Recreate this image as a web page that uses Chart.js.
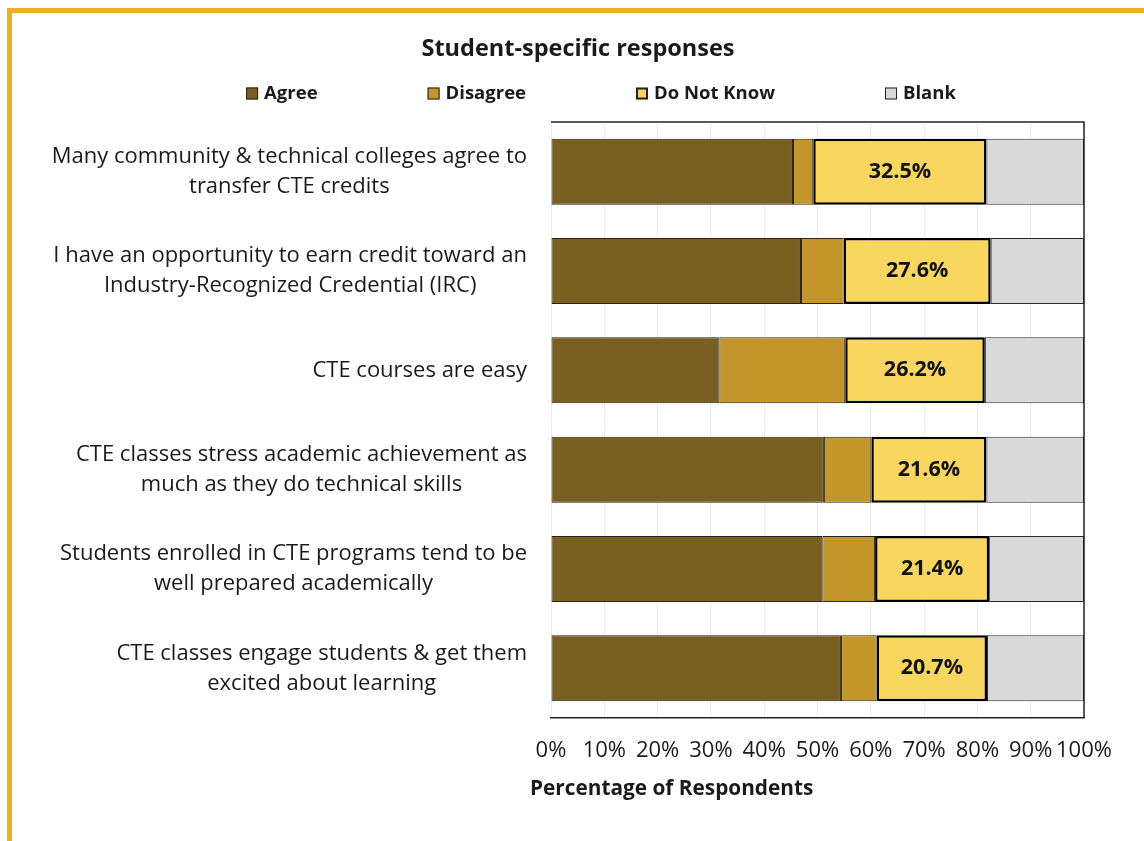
<!DOCTYPE html>
<html><head><meta charset="utf-8">
<script src="https://cdn.jsdelivr.net/npm/chart.js@4.4.1/dist/chart.umd.min.js"></script>
<style>
html,body{margin:0;padding:0;background:#fff;}
body{width:1144px;height:841px;overflow:hidden;position:relative;}
#frame{position:absolute;left:7px;top:8px;right:0;bottom:0;border-top:5px solid #EEAF27;border-left:5px solid #EEAF27;}
#wrap{position:absolute;left:12px;top:13px;width:1132px;height:828px;}
</style></head><body>
<div id="frame"></div>
<div id="wrap"><canvas id="c"></canvas></div>
<script>
const categories = [
  ["Many community & technical colleges agree to", "transfer CTE credits"],
  ["I have an opportunity to earn credit toward an", "Industry-Recognized Credential (IRC)"],
  ["CTE courses are easy"],
  ["CTE classes stress academic achievement as", "much as they do technical skills"],
  ["Students enrolled in CTE programs tend to be", "well prepared academically"],
  ["CTE classes engage students & get them", "excited about learning"]
];
const seriesNames = ["Agree", "Disagree", "Do Not Know", "Blank"];
const agree     = [45.4, 46.9, 31.6, 51.2, 50.9, 54.4];
const disagree  = [3.8, 8.0, 23.6, 8.9, 9.9, 6.7];
const doNotKnow = [32.5, 27.6, 26.2, 21.6, 21.4, 20.7];
const blank     = [18.3, 17.5, 18.6, 18.3, 17.8, 18.2];
const xTickValues = [0, 10, 20, 30, 40, 50, 60, 70, 80, 90, 100];
const chartTitle = "Student-specific responses";
const xAxisTitle = "Percentage of Respondents";

const FONT = "'Open Sans'";
const TEXT = "#1a1a1a";

const customPlugin = {
  id: 'custom',
  afterLayout(chart) {
    const tb = chart.titleBlock;
    if (tb) {
      const shift = chart.width / 2 - (tb.left + tb.right) / 2;
      tb.left += shift; tb.right += shift;
    }
  },
  beforeDraw(chart) {
    const ys = chart.scales.y;
    const items = ys.getLabelItems(chart.chartArea);
    const ctx = chart.ctx;
    const pad = ys.options.ticks.padding;
    items.forEach(it => {
      ctx.save();
      ctx.font = it.font.string;
      const lines = Array.isArray(it.label) ? it.label : [it.label];
      let w = 0;
      lines.forEach(l => { w = Math.max(w, ctx.measureText(l).width); });
      ctx.restore();
      it.options.textAlign = 'center';
      it.options.translation[0] = ys.right - pad - w / 2;
    });
  },
  afterDatasetsDraw(chart) {
    const ctx = chart.ctx;
    const dsIndex = 2;
    const meta = chart.getDatasetMeta(dsIndex);
    ctx.save();
    ctx.font = "bold 21.5px " + FONT;
    ctx.fillStyle = "#111";
    ctx.textAlign = 'center';
    ctx.textBaseline = 'middle';
    meta.data.forEach((bar, i) => {
      const v = chart.data.datasets[dsIndex].data[i];
      const c = bar.getCenterPoint();
      ctx.fillText(v.toFixed(1) + "%", c.x, c.y);
    });
    ctx.restore();
  },
  afterDraw(chart) {
    const ctx = chart.ctx;
    const a = chart.chartArea;
    ctx.save();
    ctx.strokeStyle = "#222";
    ctx.lineWidth = 1.5;
    ctx.beginPath();
    ctx.moveTo(a.left, a.top);
    ctx.lineTo(a.right, a.top);
    ctx.lineTo(a.right, a.bottom);
    ctx.stroke();
    ctx.restore();

    // legend
    ctx.save();
    ctx.font = "bold 18.5px " + FONT;
    ctx.textBaseline = 'middle';
    const box = 12, gapBT = 6, gap = 110;
    const ds = chart.data.datasets;
    const widths = ds.map(d => box + gapBT + ctx.measureText(d.label).width);
    const total = widths.reduce((s, w) => s + w, 0) + gap * (ds.length - 1);
    let x = 589 - total / 2;
    const y = 80.5;
    ds.forEach((d, i) => {
      ctx.fillStyle = d.backgroundColor;
      ctx.fillRect(x, y - box / 2, box, box);
      ctx.strokeStyle = "#222";
      ctx.lineWidth = d.legendBorder;
      ctx.strokeRect(x + d.legendBorder / 2, y - box / 2 + d.legendBorder / 2, box - d.legendBorder, box - d.legendBorder);
      ctx.fillStyle = TEXT;
      ctx.textAlign = 'left';
      ctx.fillText(d.label, x + box + gapBT, y);
      x += widths[i] + gap;
    });
    ctx.restore();

    // x axis title
    ctx.save();
    ctx.font = "bold 20.8px " + FONT;
    ctx.fillStyle = TEXT;
    ctx.textAlign = 'left';
    ctx.textBaseline = 'middle';
    ctx.fillText(xAxisTitle, a.left - 21, 776);
    ctx.restore();
  }
};

const common = { borderSkipped: false, categoryPercentage: 1.0, barPercentage: 0.665 };

new Chart(document.getElementById('c'), {
  type: 'bar',
  data: {
    labels: categories,
    datasets: [
      Object.assign({ label: seriesNames[0], data: agree, backgroundColor: "#7A5F23", borderColor: "#2a2416", borderWidth: 1, legendBorder: 1 }, common),
      Object.assign({ label: seriesNames[1], data: disagree, backgroundColor: "#C3962C", borderColor: "#2a2416", borderWidth: 1, legendBorder: 1 }, common),
      Object.assign({ label: seriesNames[2], data: doNotKnow, backgroundColor: "#F8D660", borderColor: "#000", borderWidth: 2.5, legendBorder: 2 }, common),
      Object.assign({ label: seriesNames[3], data: blank, backgroundColor: "#D9D9D9", borderColor: "#2a2a2a", borderWidth: 1, legendBorder: 1 }, common)
    ]
  },
  options: {
    indexAxis: 'y',
    responsive: true,
    maintainAspectRatio: false,
    animation: false,
    events: [],
    layout: { padding: { left: 0, right: 60, top: 0, bottom: 0 } },
    plugins: {
      legend: { display: false },
      tooltip: { enabled: false },
      title: {
        display: true,
        text: chartTitle,
        color: TEXT,
        font: { family: FONT, size: 23.5, weight: 'bold' },
        padding: { top: 22, bottom: 58.8 }
      }
    },
    scales: {
      x: {
        stacked: true,
        min: 0, max: 100,
        afterBuildTicks: s => { s.ticks = xTickValues.map(v => ({ value: v })); },
        afterFit: s => { s.height = 123; },
        ticks: {
          callback: v => v + "%",
          color: TEXT,
          font: { family: FONT, size: 22 },
          padding: 20,
          maxRotation: 0,
          autoSkip: false
        },
        grid: { color: "#ececec", lineWidth: 1, drawTicks: false },
        border: { display: true, color: "#222", width: 1.5 }
      },
      y: {
        stacked: true,
        afterFit: s => { s.width = 539; },
        ticks: {
          color: TEXT,
          font: { family: FONT, size: 22, lineHeight: 1.36 },
          padding: 24,
          crossAlign: 'near',
          autoSkip: false
        },
        grid: { display: false, drawTicks: false },
        border: { display: false }
      }
    }
  },
  plugins: [customPlugin]
});
</script>
</body></html>
